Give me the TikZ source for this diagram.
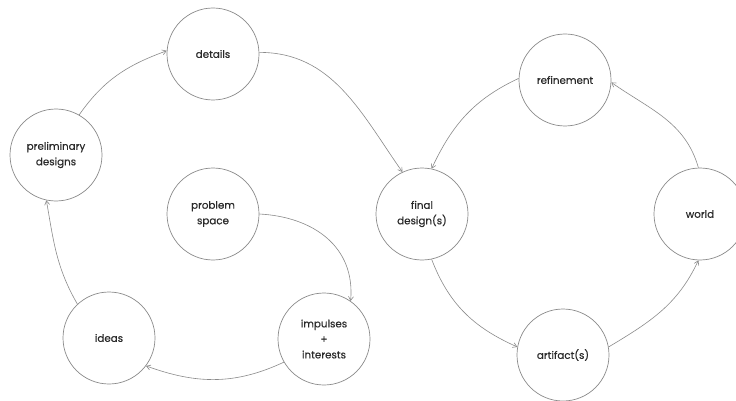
\documentclass[tikz,border=0pt]{standalone}
\usepackage{fontspec}
\setmainfont{Poppins}
\newfontfamily\stagefont[FakeBold=0.5]{Poppins}
\usetikzlibrary{arrows.meta}
\definecolor{linegray}{HTML}{8A8A8A}
\definecolor{txtgray}{HTML}{2A2A2A}
\tikzset{
  stage/.style={circle, draw=linegray, line width=0.7pt, minimum size=92pt, inner sep=0pt,
    align=center, text=txtgray, font=\stagefont\fontsize{10.3}{15.5}\selectfont},
  flow/.style={draw=linegray, line width=0.6pt, -{Straight Barb[length=4pt,width=5pt]}}
}
\begin{document}
\begin{tikzpicture}[x=1pt,y=-1pt]
\useasboundingbox (0,0) rectangle (736,401);
\clip (0,0) rectangle (736,401);
\node[stage] (details) at (213,54) {details};
\node[stage] (prelim) at (56,155) {preliminary\\designs};
\node[stage] (problem) at (213,214) {problem\\space};
\node[stage] (ideas) at (109,338) {ideas};
\node[stage] (impulses) at (324,339) {impulses\\+\\interests};
\node[stage] (final) at (422,214) {final\\design(s)};
\node[stage] (refine) at (565,80) {refinement};
\node[stage] (world) at (700,214) {world};
\node[stage] (artifact) at (563,355) {artifact(s)};

\draw[flow] (prelim.60) to[out=55,in=200] (details.176);
\draw[flow] (details.2) to[out=0,in=125] (final.115);
\draw[flow] (problem.0) to[out=-3,in=85,looseness=1.1] (impulses.55);
\draw[flow] (impulses.210) to[out=205,in=-20] (ideas.-37);
\draw[flow] (ideas.133) to[out=120,in=-80] (prelim.258);
\draw[flow] (refine.178) to[out=205,in=65] (final.78);
\draw[flow] (world.92) to[out=106,in=-35] (refine.-3);
\draw[flow] (final.-78) to[out=-69,in=156] (artifact.170);
\draw[flow] (artifact.10) to[out=31,in=-115] (world.-92);
\end{tikzpicture}
\end{document}
